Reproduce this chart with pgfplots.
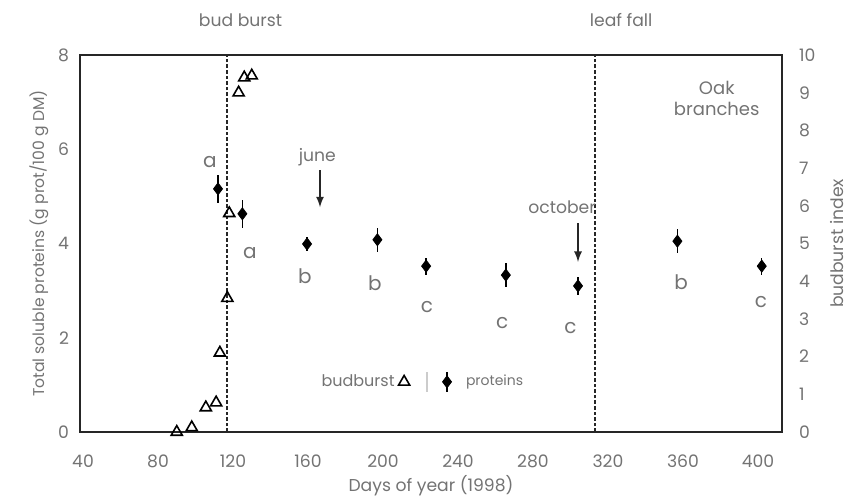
\documentclass[border=0pt]{standalone}
\usepackage{fontspec}
\setmainfont{Poppins}
\usepackage{pgfplots}
\pgfplotsset{compat=1.18}
\definecolor{txt}{gray}{0.45}
\definecolor{ax}{gray}{0.15}

\begin{document}
\begin{tikzpicture}[font=\fontsize{8.6}{10}\selectfont]
\useasboundingbox (0,0) rectangle (424.5pt,249.5pt);

% proteins (left axis)
\begin{axis}[
    at={(40pt,33.5pt)}, anchor=south west,
    scale only axis, width=351pt, height=188.5pt,
    xmin=38.4, xmax=412.8, ymin=0, ymax=8,
    xtick={40,80,...,400}, ytick={0,2,...,8},
    xtick pos=bottom, ytick pos=left,
    major tick length=0pt,
    tick label style={txt, /pgf/number format/assume math mode=true},
    xticklabel style={yshift=-8pt},
    yticklabel style={xshift=-2pt},
    axis line style={ax, line width=0.9pt},
    xlabel={Days of year (1998)},
    ylabel={Total soluble proteins (g prot/100 g DM)},
    label style={txt},
    xlabel style={yshift=3pt},
    ylabel style={yshift=-2pt, font=\fontsize{7.8}{9}\selectfont},
    clip=false,
    legend style={at={(0.513,0.133)}, anchor=west, draw=none, fill=none,
        font=\fontsize{7}{8}\selectfont, text=txt, inner sep=1pt},
    legend image code/.code={
        \path[draw=none, fill=none] (0.3cm,0cm) -- (0.3cm+7.5pt,0cm);
        \draw[black, line width=0.7pt] (0.3cm,-5pt) -- (0.3cm,5pt);
        \draw[mark repeat=2, mark phase=2, #1] plot coordinates {(0cm,0cm) (0.3cm,0cm) (0.6cm,0cm)};
    },
]
\addplot[only marks, mark=diamond*, mark size=3pt, black,
    error bars/.cd, y dir=both, y explicit, error mark=none,
    error bar style={line width=0.7pt}]
    table[x=x, y=y, y error=e] {
x     y     e
112   5.16  0.30
125   4.63  0.30
159.5 3.99  0.15
197   4.08  0.25
223   3.52  0.18
265.5 3.33  0.25
304   3.10  0.20
357   4.05  0.26
402   3.52  0.18
};
\addlegendentry{proteins}

% bud burst and leaf fall
\draw[ax, line width=1pt, dash pattern=on 1.8pt off 1pt] (axis cs:117,0) -- (axis cs:117,8);
\draw[ax, line width=1pt, dash pattern=on 1.8pt off 1pt] (axis cs:313,0) -- (axis cs:313,8);
\node[txt] at (axis cs:124,8.74) {bud burst};
\node[txt] at (axis cs:327,8.74) {leaf fall};
\node[txt, align=center, font=\fontsize{9}{10.5}\selectfont] at (axis cs:378,7.08) {Oak\\branches};

% month arrows
\node[txt] at (axis cs:165,5.84) {june};
\draw[-latex, ax, line width=0.8pt] (axis cs:166.4,5.56) -- (axis cs:166.4,4.77);
\node[txt] at (axis cs:295.5,4.77) {october};
\draw[-latex, ax, line width=0.8pt] (axis cs:304,4.43) -- (axis cs:304,3.61);

% letters
\begin{scope}[every node/.style={txt, font=\fontsize{10}{12}\selectfont}]
\node at (axis cs:107.7,5.73) {a};
\node at (axis cs:129,3.80) {a};
\node at (axis cs:158.4,3.31) {b};
\node at (axis cs:195.7,3.16) {b};
\node at (axis cs:223.5,2.65) {c};
\node at (axis cs:263.5,2.31) {c};
\node at (axis cs:300,2.20) {c};
\node at (axis cs:359,3.18) {b};
\node at (axis cs:401.6,2.76) {c};
\end{scope}

% legend separator
\draw[black!20, line width=0.6pt] (axis cs:223.5,1.27) -- (axis cs:223.5,0.85);
\end{axis}

% budburst index (right axis)
\begin{axis}[
    at={(40pt,33.5pt)}, anchor=south west,
    scale only axis, width=351pt, height=188.5pt,
    xmin=38.4, xmax=412.8, ymin=0, ymax=10,
    ytick={0,1,...,10},
    axis x line=none, axis y line*=right,
    major tick length=0pt,
    tick label style={txt, /pgf/number format/assume math mode=true},
    yticklabel style={xshift=5pt},
    axis line style={ax, line width=0.9pt},
    ylabel={budburst index},
    label style={txt},
    ylabel style={yshift=-0.5pt},
    clip=false,
    legend plot pos=right,
    legend style={at={(0.473,0.133)}, anchor=east, draw=none, fill=none,
        font=\fontsize{8}{9}\selectfont, text=txt, inner sep=1pt},
]
\addplot[only marks, mark=triangle, mark size=3.2pt, black, line width=0.8pt]
    coordinates {
    (90,0) (98,0.12) (105.5,0.65) (111,0.78) (113,2.1)
    (117,3.55) (118,5.8) (123,9.0) (126,9.4) (130,9.45)
};
\addlegendentry{budburst}
\end{axis}
\end{tikzpicture}
\end{document}
